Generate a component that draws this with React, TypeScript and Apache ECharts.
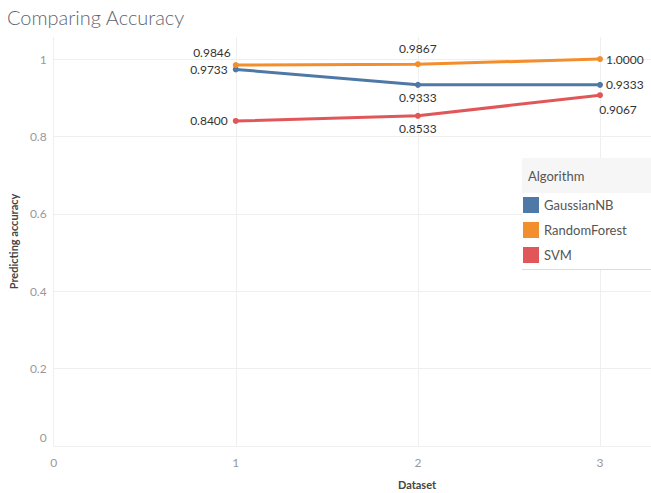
import React, { useEffect, useRef } from "react";
import * as echarts from "echarts";

const datasets = [1, 2, 3];
const seriesNames = ["GaussianNB", "RandomForest", "SVM"];
const gaussianNB = [0.9733, 0.9333, 0.9333];
const randomForest = [0.9846, 0.9867, 1.0];
const svm = [0.84, 0.8533, 0.9067];
const yTicks = [0, 0.2, 0.4, 0.6, 0.8, 1];
const xTicks = [0, 1, 2, 3];

const colors = ["#4e79a7", "#f28e2b", "#e15759"];
const FONT = "Lato, 'Noto Sans', sans-serif";

// per-point label placement (style only)
const labelCfg: any[][] = [
  [
    { position: "left", distance: 5 },
    { position: "bottom", distance: 4 },
    { position: "right", distance: 3 },
  ],
  [
    { position: "left", distance: 2, offset: [0, -13] },
    { position: "top", distance: 7 },
    { position: "right", distance: 3 },
  ],
  [
    { position: "left", distance: 5 },
    { position: "bottom", distance: 4 },
    { position: "bottom", distance: 5, offset: [18, 0] },
  ],
];

export default function App() {
  const ref = useRef<HTMLDivElement>(null);
  useEffect(() => {
    document.body.style.margin = "0";
    const chart = echarts.init(ref.current!, null, { renderer: "svg" });
    const values = [gaussianNB, randomForest, svm];
    const series = seriesNames.map((name, si) => ({
      name,
      type: "line",
      color: colors[si],
      symbol: "circle",
      symbolSize: 6,
      lineStyle: { width: 3, color: colors[si] },
      itemStyle: { color: colors[si] },
      z: 2 + si,
      data: datasets.map((d, i) => ({
        value: [d, values[si][i]],
        label: {
          show: true,
          color: "#333",
          fontSize: 12,
          fontFamily: FONT,
          formatter: (p: any) => Number(p.value[1]).toFixed(4),
          ...labelCfg[si][i],
        },
      })),
    }));
    chart.setOption({
      animation: false,
      backgroundColor: "#fff",
      textStyle: { fontFamily: FONT },
      title: {
        text: "Comparing Accuracy",
        left: 2,
        top: 2,
        textStyle: { fontSize: 20, fontWeight: 300, color: "#5f6670", fontFamily: FONT },
      },
      grid: { left: 49, right: 0, top: 37, bottom: 47, containLabel: false },
      xAxis: {
        type: "value",
        min: xTicks[0],
        max: 3.28,
        interval: 1,
        axisLine: { show: false },
        axisTick: { show: false },
        axisLabel: { showMaxLabel: false, color: "#999", fontSize: 12, margin: 10, fontFamily: FONT },
        splitLine: { show: true, showMaxLine: false, lineStyle: { color: "#efefef", width: 1 } },
      },
      yAxis: {
        type: "value",
        min: yTicks[0],
        max: 1.057,
        interval: 0.2,
        name: "Predicting accuracy",
        nameLocation: "middle",
        nameGap: 34,
        nameTextStyle: { fontSize: 11, fontWeight: "bold", color: "#444", fontFamily: FONT },
        axisLine: { show: false },
        axisTick: { show: false },
        axisLabel: {
          showMaxLabel: false,
          color: "#999",
          fontSize: 12,
          margin: 7,
          fontFamily: FONT,
          formatter: (v: number) => (v === 0 ? "{z|0}" : String(Math.round(v * 10) / 10)),
          rich: { z: { color: "#999", fontSize: 12, padding: [0, 0, 18, 0], fontFamily: FONT } },
        },
        splitLine: { show: true, showMaxLine: false, lineStyle: { color: "#efefef", width: 1 } },
      },
      legend: {
        data: seriesNames,
        orient: "vertical",
        left: 523,
        top: 197,
        itemWidth: 16,
        itemHeight: 16,
        itemGap: 9,
        icon: "rect",
        padding: 0,
        textStyle: { fontSize: 13, color: "#555", fontFamily: FONT },
        z: 10,
      },
      graphic: [
        { type: "rect", z: 5, shape: { x: 522, y: 158, width: 129, height: 112 }, style: { fill: "#fff" } },
        { type: "rect", z: 5, shape: { x: 522, y: 158, width: 129, height: 35 }, style: { fill: "#f6f6f6" } },
        { type: "line", z: 5, shape: { x1: 522, y1: 269.5, x2: 651, y2: 269.5 }, style: { stroke: "#dcdcdc", lineWidth: 1 } },
        {
          type: "text",
          z: 6,
          x: 528,
          y: 176,
          style: { text: "Algorithm", fontSize: 13, fill: "#555", fontFamily: FONT, verticalAlign: "middle" },
        },
        {
          type: "text",
          z: 6,
          x: 417,
          y: 484,
          style: {
            text: "Dataset",
            fontSize: 11,
            fontWeight: "bold",
            fill: "#444",
            fontFamily: FONT,
            align: "center",
            verticalAlign: "middle",
          },
        },
      ],
      series,
    });
    return () => chart.dispose();
  }, []);
  return <div ref={ref} style={{ width: 651, height: 493 }} />;
}
